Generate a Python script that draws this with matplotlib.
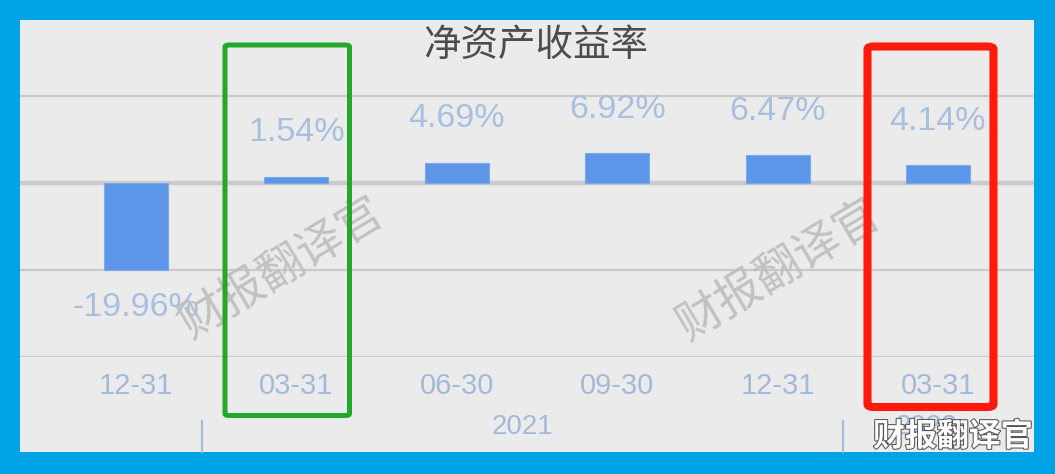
import matplotlib
matplotlib.use("Agg")
import matplotlib.pyplot as plt
from matplotlib.patches import Rectangle, FancyBboxPatch
import matplotlib.patheffects as pe
import matplotlib.transforms as mtransforms

# ---- data ----
title = "净资产收益率"
categories = ["12-31", "03-31", "06-30", "09-30", "12-31", "03-31"]
values = [-19.96, 1.54, 4.69, 6.92, 6.47, 4.14]
value_labels = ["-19.96%", "1.54%", "4.69%", "6.92%", "6.47%", "4.14%"]
groups = ["2021", "2022"]
group_centers = [2.41, 4.93]
group_separators = [0.41, 4.41]
watermark = "财报翻译官"

W, H = 1055, 474
DPI = 100
fig = plt.figure(figsize=(W / DPI, H / DPI), dpi=DPI)
fig.patch.set_facecolor("#00A3E6")

def fx(px):
    return px / W

def fy(py):
    return 1 - py / H

# gray panel
fig.add_artist(Rectangle((fx(20), fy(452)), fx(1034) - fx(20), fy(20) - fy(452),
                         transform=fig.transFigure, facecolor="#EBEBEB",
                         edgecolor="none", zorder=0))

# data axes: x 20..1034 px, y 20..357 px
ax = fig.add_axes([fx(20), fy(357), fx(1034) - fx(20), fy(20) - fy(357)])
ax.set_facecolor("none")
px_per_unit_x = 160.4
ax.set_xlim(-(136 - 20) / px_per_unit_x, (1034 - 136) / px_per_unit_x)
px_per_unit_y = 86.7 / 20
ax.set_ylim(-40, (183 - 20) / px_per_unit_y)

for s in ax.spines.values():
    s.set_visible(False)

ax.set_yticks([-40, -20, 20])
ax.yaxis.grid(True, color="#CACACA", linewidth=1.6)
ax.axhline(0, color="#CACACA", linewidth=3.2, zorder=1)
ax.tick_params(axis="y", length=0, labelleft=False)
ax.set_axisbelow(True)

x = list(range(len(values)))
ax.bar(x, values, width=0.4, color="#5D96E8", edgecolor="#7AAAEE",
       linewidth=0.8, zorder=2)

ax.set_xticks(x)
ax.set_xticklabels(categories, fontfamily="Liberation Sans", fontsize=21,
                   color="#A3B9DA")
ax.tick_params(axis="x", length=0, pad=11)

for xi, v, lab in zip(x, values, value_labels):
    off = 44 if v >= 0 else -38
    ax.annotate(lab, (xi, v), xytext=(0, off), textcoords="offset pixels",
                ha="center", va="center", fontfamily="Liberation Sans",
                fontsize=24.5, color="#A9BFDF", zorder=3)

# group labels and separators
blend = mtransforms.blended_transform_factory(ax.transData, fig.transFigure)
for gx, g in zip(group_centers, groups):
    ax.text(gx, fy(427), g, transform=blend, ha="center", va="center",
            fontfamily="Liberation Sans", fontsize=20, color="#A3B9DA",
            clip_on=False)
for sx in group_separators:
    ax.plot([sx, sx], [fy(421), fy(452)], transform=blend, color="#AABCDB",
            linewidth=1.6, clip_on=False)

# title
fig.text(fx(536), fy(45), title, ha="center", va="center",
         fontfamily="Noto Sans CJK SC", fontsize=27, color="#4D4D4D")

# watermarks
for cx, cy in [(282, 268), (779, 270)]:
    fig.text(fx(cx), fy(cy), watermark, ha="center", va="center",
             rotation=31, rotation_mode="anchor", fontfamily="Noto Sans CJK SC",
             fontweight="light", fontsize=33, color="#BDBDBD", alpha=0.9,
             zorder=5)

# highlight boxes
fig.add_artist(FancyBboxPatch((fx(225), fy(415.5)), fx(349.5) - fx(225),
                              fy(45) - fy(415.5), boxstyle="round,pad=0,rounding_size=0.004",
                              transform=fig.transFigure, facecolor="none",
                              edgecolor="#22A82A", linewidth=3.6, zorder=6))
fig.add_artist(FancyBboxPatch((fx(867.5), fy(407)), fx(993.5) - fx(867.5),
                              fy(46.5) - fy(407), boxstyle="round,pad=0,rounding_size=0.006",
                              transform=fig.transFigure, facecolor="none",
                              edgecolor="#FF1A0E", linewidth=5.8, zorder=6))

# corner watermark
fig.text(fx(953), fy(437), watermark, ha="center", va="center",
         fontfamily="Noto Sans CJK SC", fontweight="bold", fontsize=23,
         color="white", zorder=7,
         path_effects=[pe.withStroke(linewidth=1.5, foreground="#555555")])

fig.savefig("out.png", dpi=DPI, facecolor=fig.get_facecolor())
